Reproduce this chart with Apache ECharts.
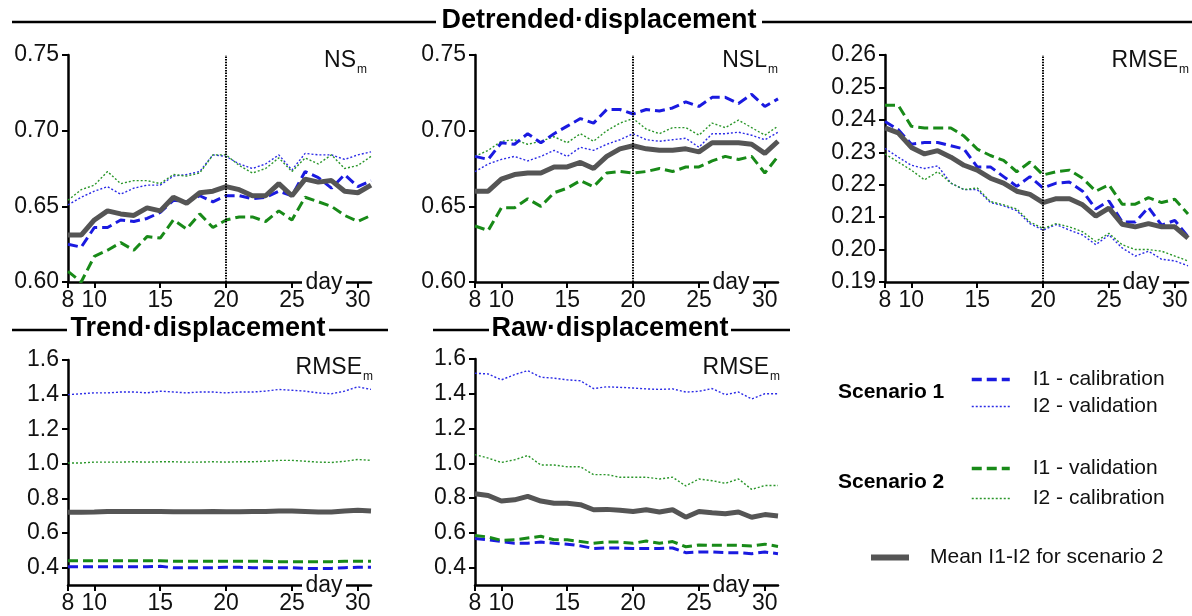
<!DOCTYPE html>
<html>
<head>
<meta charset="utf-8">
<script src="https://cdn.jsdelivr.net/npm/echarts@6/dist/echarts.min.js"></script>
<style>
  html, body { margin: 0; padding: 0; background: #fff; }
  #chart { width: 1192px; height: 616px; }
</style>
</head>
<body>
<div id="chart"></div>
<script>
// days on the x axis
const days = [8, 9, 10, 11, 12, 13, 14, 15, 16, 17, 18, 19, 20, 21, 22, 23, 24, 25, 26, 27, 28, 29, 30, 31];
const dayTicks = [8, 10, 15, 20, 25, 30];

// Detrended displacement - NS_m
const ns_i1cal = [0.625, 0.623, 0.636, 0.636, 0.641, 0.640, 0.642, 0.646, 0.654, 0.653, 0.657, 0.653, 0.657, 0.657, 0.655, 0.656, 0.660, 0.657, 0.673, 0.669, 0.662, 0.671, 0.663, 0.667];
const ns_i2val = [0.651, 0.656, 0.660, 0.663, 0.658, 0.662, 0.664, 0.664, 0.670, 0.671, 0.673, 0.684, 0.683, 0.678, 0.675, 0.678, 0.684, 0.674, 0.685, 0.684, 0.684, 0.681, 0.684, 0.686];
const ns_i1val = [0.607, 0.600, 0.617, 0.621, 0.626, 0.621, 0.630, 0.629, 0.641, 0.635, 0.645, 0.636, 0.641, 0.643, 0.643, 0.640, 0.647, 0.641, 0.656, 0.653, 0.650, 0.644, 0.640, 0.644];
const ns_i2cal = [0.654, 0.661, 0.664, 0.673, 0.665, 0.667, 0.667, 0.665, 0.671, 0.670, 0.672, 0.684, 0.684, 0.677, 0.672, 0.675, 0.682, 0.673, 0.682, 0.678, 0.684, 0.675, 0.677, 0.683];
const ns_mean  = [0.631, 0.631, 0.641, 0.647, 0.645, 0.644, 0.649, 0.647, 0.656, 0.652, 0.659, 0.660, 0.663, 0.661, 0.657, 0.657, 0.665, 0.657, 0.668, 0.666, 0.667, 0.660, 0.659, 0.664];

// Detrended displacement - NSL_m
const nsl_i1cal = [0.683, 0.681, 0.692, 0.691, 0.698, 0.692, 0.698, 0.703, 0.708, 0.705, 0.714, 0.714, 0.711, 0.714, 0.713, 0.715, 0.719, 0.716, 0.722, 0.722, 0.718, 0.724, 0.716, 0.721];
const nsl_i2val = [0.673, 0.678, 0.681, 0.683, 0.680, 0.683, 0.687, 0.683, 0.689, 0.687, 0.691, 0.694, 0.698, 0.694, 0.693, 0.694, 0.695, 0.689, 0.698, 0.698, 0.699, 0.697, 0.694, 0.699];
const nsl_i1val = [0.637, 0.634, 0.649, 0.649, 0.655, 0.650, 0.659, 0.662, 0.667, 0.663, 0.672, 0.673, 0.672, 0.673, 0.675, 0.673, 0.676, 0.676, 0.680, 0.683, 0.681, 0.683, 0.672, 0.683];
const nsl_i2cal = [0.683, 0.687, 0.693, 0.694, 0.691, 0.693, 0.696, 0.692, 0.698, 0.693, 0.700, 0.705, 0.708, 0.701, 0.698, 0.702, 0.702, 0.697, 0.705, 0.702, 0.707, 0.702, 0.697, 0.703];
const nsl_mean  = [0.660, 0.660, 0.668, 0.671, 0.672, 0.672, 0.676, 0.676, 0.679, 0.675, 0.683, 0.688, 0.690, 0.688, 0.687, 0.687, 0.688, 0.686, 0.692, 0.692, 0.692, 0.691, 0.685, 0.693];

// Detrended displacement - RMSE_m
const rd_i1cal = [0.2395, 0.237, 0.2325, 0.233, 0.233, 0.232, 0.231, 0.2255, 0.2255, 0.2225, 0.2195, 0.2225, 0.219, 0.2205, 0.2208, 0.218, 0.2125, 0.215, 0.2085, 0.2085, 0.213, 0.2075, 0.209, 0.204];
const rd_i2val = [0.2312, 0.2285, 0.226, 0.225, 0.2258, 0.2205, 0.2185, 0.2185, 0.2145, 0.2135, 0.212, 0.208, 0.206, 0.2077, 0.206, 0.2045, 0.2015, 0.2045, 0.2005, 0.198, 0.1995, 0.197, 0.1965, 0.195];
const rd_i1val = [0.2445, 0.2445, 0.238, 0.2375, 0.2375, 0.2375, 0.235, 0.231, 0.229, 0.2275, 0.224, 0.227, 0.223, 0.224, 0.2245, 0.222, 0.218, 0.220, 0.214, 0.214, 0.216, 0.2145, 0.2155, 0.211];
const rd_i2cal = [0.2295, 0.227, 0.2245, 0.2215, 0.224, 0.2205, 0.2185, 0.219, 0.2148, 0.2138, 0.2125, 0.2085, 0.2065, 0.208, 0.207, 0.2055, 0.2025, 0.205, 0.2015, 0.200, 0.200, 0.1995, 0.198, 0.1965];
const rd_mean  = [0.2375, 0.236, 0.2315, 0.2295, 0.2305, 0.2285, 0.226, 0.2245, 0.222, 0.2205, 0.218, 0.217, 0.2145, 0.2157, 0.2157, 0.2138, 0.2103, 0.2128, 0.2078, 0.207, 0.208, 0.207, 0.207, 0.2035];

// Trend displacement - RMSE_m
const tr_i1cal = [0.405, 0.405, 0.405, 0.405, 0.405, 0.405, 0.405, 0.408, 0.400, 0.400, 0.400, 0.400, 0.402, 0.402, 0.400, 0.400, 0.400, 0.400, 0.396, 0.396, 0.396, 0.400, 0.402, 0.402];
const tr_i2val = [1.400, 1.405, 1.410, 1.410, 1.415, 1.415, 1.410, 1.420, 1.415, 1.410, 1.415, 1.415, 1.410, 1.415, 1.415, 1.420, 1.430, 1.425, 1.420, 1.410, 1.405, 1.420, 1.445, 1.430];
const tr_i1val = [0.440, 0.440, 0.440, 0.440, 0.440, 0.440, 0.440, 0.440, 0.437, 0.437, 0.437, 0.437, 0.437, 0.437, 0.437, 0.437, 0.435, 0.435, 0.435, 0.435, 0.435, 0.437, 0.437, 0.437];
const tr_i2cal = [1.005, 1.005, 1.010, 1.010, 1.010, 1.012, 1.010, 1.012, 1.012, 1.010, 1.010, 1.012, 1.010, 1.012, 1.012, 1.015, 1.020, 1.020, 1.015, 1.010, 1.008, 1.015, 1.025, 1.020];
const tr_mean  = [0.720, 0.720, 0.722, 0.725, 0.725, 0.725, 0.725, 0.725, 0.723, 0.723, 0.723, 0.725, 0.723, 0.723, 0.725, 0.725, 0.728, 0.728, 0.725, 0.722, 0.722, 0.728, 0.732, 0.728];

// Raw displacement - RMSE_m
const rw_i1cal = [0.567, 0.560, 0.550, 0.540, 0.540, 0.547, 0.540, 0.535, 0.525, 0.510, 0.513, 0.513, 0.510, 0.510, 0.510, 0.513, 0.486, 0.490, 0.490, 0.486, 0.486, 0.480, 0.490, 0.480];
const rw_i2val = [1.518, 1.514, 1.480, 1.510, 1.533, 1.495, 1.490, 1.480, 1.475, 1.430, 1.440, 1.437, 1.433, 1.428, 1.425, 1.428, 1.410, 1.414, 1.430, 1.395, 1.410, 1.370, 1.400, 1.400];
const rw_i1val = [0.585, 0.576, 0.557, 0.560, 0.570, 0.580, 0.560, 0.560, 0.550, 0.540, 0.547, 0.547, 0.540, 0.553, 0.540, 0.550, 0.520, 0.530, 0.528, 0.528, 0.528, 0.525, 0.535, 0.522];
const rw_i2cal = [1.050, 1.030, 1.005, 1.020, 1.045, 0.990, 0.990, 0.980, 0.980, 0.935, 0.935, 0.920, 0.920, 0.920, 0.910, 0.920, 0.870, 0.910, 0.900, 0.885, 0.910, 0.850, 0.872, 0.872];
const rw_mean  = [0.825, 0.815, 0.783, 0.790, 0.810, 0.783, 0.770, 0.770, 0.762, 0.733, 0.735, 0.730, 0.723, 0.733, 0.720, 0.733, 0.690, 0.723, 0.716, 0.710, 0.720, 0.690, 0.705, 0.697];

const nsTicks = [0.60, 0.65, 0.70, 0.75];
const rmseTicks = [0.19, 0.20, 0.21, 0.22, 0.23, 0.24, 0.25, 0.26];
const bigTicks = [0.4, 0.6, 0.8, 1.0, 1.2, 1.4, 1.6];

const FONT = '"Liberation Sans", Arial, sans-serif';
const names = ['I1 - calibration', 'I2 - validation', 'I1 - validation', 'I2 - calibration', 'Mean I1-I2 for scenario 2'];
const styles = {
  'I1 - calibration': { color: '#1a1ae0', width: 3, type: [10, 5] },
  'I2 - validation': { color: '#2b2be6', width: 1.4, type: [2, 2] },
  'I1 - validation': { color: '#188a18', width: 3, type: [10, 5] },
  'I2 - calibration': { color: '#2a962a', width: 1.4, type: [2, 2] },
  'Mean I1-I2 for scenario 2': { color: '#555555', width: 5, type: 'solid' }
};

const grids = [
  { left: 68, top: 55, width: 303, height: 227 },
  { left: 475, top: 55, width: 303, height: 227 },
  { left: 885, top: 55, width: 303, height: 227 },
  { left: 68, top: 360, width: 303, height: 225 },
  { left: 475, top: 359, width: 303, height: 226 }
];

function xAxisFor(i) {
  return {
    type: 'value', gridIndex: i, min: 8, max: 31,
    axisLine: { lineStyle: { color: '#000', width: 2.5 } },
    axisTick: { length: 6, lineStyle: { color: '#000', width: 2 }, customValues: dayTicks },
    axisLabel: { fontSize: 23, color: '#111', fontFamily: FONT, margin: 7, customValues: dayTicks },
    splitLine: { show: false }
  };
}

function yAxisFor(i, min, max, ticks, digits) {
  return {
    type: 'value', gridIndex: i, min: min, max: max,
    axisLine: { show: true, lineStyle: { color: '#000', width: 2.5 } },
    axisTick: { show: true, length: 6, lineStyle: { color: '#000', width: 2 }, customValues: ticks },
    axisLabel: { fontSize: 23, color: '#111', fontFamily: FONT, margin: 9, customValues: ticks, formatter: v => v.toFixed(digits) },
    splitLine: { show: false }
  };
}

function panelSeries(i, arrs, markDay) {
  const order = [1, 3, 0, 2, 4];
  return order.map(k => {
    const name = names[k];
    const s = styles[name];
    const ser = {
      name: name, type: 'line', xAxisIndex: i, yAxisIndex: i,
      data: days.map((d, j) => [d, arrs[k][j]]),
      symbol: 'none', silent: true, animation: false,
      itemStyle: { color: s.color },
      lineStyle: { color: s.color, width: s.width, type: s.type }
    };
    if (markDay && k === 4) {
      ser.markLine = {
        silent: true, symbol: 'none', label: { show: false },
        lineStyle: { color: '#000', width: 2, type: [1.5, 1.2] },
        data: [{ xAxis: 20 }]
      };
    }
    return ser;
  });
}

function subTitle(text, right, top) {
  return {
    text: '{a|' + text + '}{b|m}', right: right, top: top, padding: 0,
    textStyle: {
      rich: {
        a: { fontSize: 23, fontWeight: 'normal', color: '#111', fontFamily: FONT },
        b: { fontSize: 12, fontWeight: 'normal', color: '#111', fontFamily: FONT, padding: [18, 0, 0, 1] }
      }
    }
  };
}

function legendItem(name, w) {
  return { name: name, itemStyle: { opacity: 0 }, lineStyle: { width: w } };
}

function heading(text, cx, cy, halfText, x1, x2) {
  return [
    { type: 'line', shape: { x1: x1, y1: cy + 1, x2: cx - halfText, y2: cy + 1 }, style: { stroke: '#000', lineWidth: 2.5 } },
    { type: 'line', shape: { x1: cx + halfText, y1: cy + 1, x2: x2, y2: cy + 1 }, style: { stroke: '#000', lineWidth: 2.5 } },
    { type: 'text', x: cx, y: cy, style: { text: text, font: 'bold 27px ' + FONT, fill: '#000', align: 'center', verticalAlign: 'middle' } }
  ];
}

// "day" axis names sitting on each x axis line, on a white patch
const dayLabels = [];
grids.forEach(g => {
  const cx = g.left + 256, cy = g.top + g.height;
  dayLabels.push({ type: 'rect', z: 100, shape: { x: cx - 22, y: cy - 10, width: 44, height: 20 }, style: { fill: '#fff' } });
  dayLabels.push({ type: 'text', z: 101, x: cx, y: cy + 1, style: { text: 'day', font: '23px ' + FONT, fill: '#111', align: 'center', verticalAlign: 'middle' } });
});

const legendText = { fontSize: 21, color: '#111', fontFamily: FONT, padding: [0, 0, 0, 18] };

const chart = echarts.init(document.getElementById('chart'));
chart.setOption({
  backgroundColor: '#fff',
  animation: false,
  textStyle: { fontFamily: FONT },
  title: [
    subTitle('NS', 1192 - 367, 46),
    subTitle('NSL', 1192 - 778, 46),
    subTitle('RMSE', 1192 - 1189, 46),
    subTitle('RMSE', 1192 - 373, 353),
    subTitle('RMSE', 1192 - 780, 353)
  ],
  grid: grids,
  xAxis: [0, 1, 2, 3, 4].map(xAxisFor),
  yAxis: [
    yAxisFor(0, 0.60, 0.75, nsTicks, 2),
    yAxisFor(1, 0.60, 0.75, nsTicks, 2),
    yAxisFor(2, 0.19, 0.26, rmseTicks, 2),
    yAxisFor(3, 0.3, 1.6, bigTicks, 1),
    yAxisFor(4, 0.3, 1.6, bigTicks, 1)
  ],
  legend: [
    {
      data: [legendItem('I1 - calibration', 3.5), legendItem('I2 - validation', 1.4)],
      orient: 'vertical', left: 970, top: 369, padding: 0, itemWidth: 38, itemHeight: 14, itemGap: 6,
      textStyle: legendText
    },
    {
      data: [legendItem('I1 - validation', 3.5), legendItem('I2 - calibration', 1.4)],
      orient: 'vertical', left: 970, top: 458, padding: 0, itemWidth: 38, itemHeight: 14, itemGap: 9,
      textStyle: legendText
    },
    {
      data: [legendItem('Mean I1-I2 for scenario 2', 6)],
      orient: 'vertical', left: 868, top: 547, padding: 0, itemWidth: 38, itemHeight: 14,
      textStyle: Object.assign({}, legendText, { padding: [0, 0, 0, 16] })
    }
  ],
  graphic: [].concat(
    heading('Detrended·displacement', 599, 21, 163, 12, 1192),
    heading('Trend·displacement', 198, 329, 131, 12, 388),
    heading('Raw·displacement', 610, 329, 121, 433, 790),
    [
      { type: 'text', x: 838, y: 392, style: { text: 'Scenario 1', font: 'bold 21px ' + FONT, fill: '#000', align: 'left', verticalAlign: 'middle' } },
      { type: 'text', x: 838, y: 482, style: { text: 'Scenario 2', font: 'bold 21px ' + FONT, fill: '#000', align: 'left', verticalAlign: 'middle' } }
    ],
    dayLabels
  ),
  series: [].concat(
    panelSeries(0, [ns_i1cal, ns_i2val, ns_i1val, ns_i2cal, ns_mean], true),
    panelSeries(1, [nsl_i1cal, nsl_i2val, nsl_i1val, nsl_i2cal, nsl_mean], true),
    panelSeries(2, [rd_i1cal, rd_i2val, rd_i1val, rd_i2cal, rd_mean], true),
    panelSeries(3, [tr_i1cal, tr_i2val, tr_i1val, tr_i2cal, tr_mean], false),
    panelSeries(4, [rw_i1cal, rw_i2val, rw_i1val, rw_i2cal, rw_mean], false)
  )
});
</script>
</body>
</html>
